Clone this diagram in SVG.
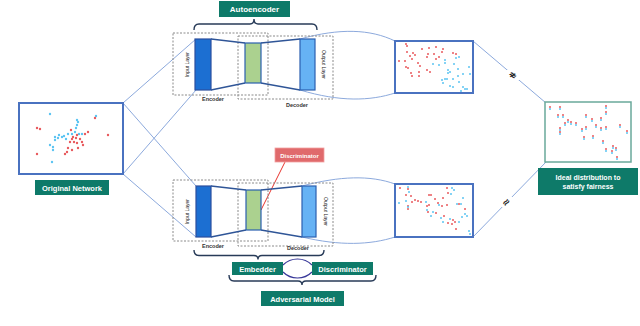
<svg xmlns="http://www.w3.org/2000/svg" width="640" height="326" viewBox="0 0 640 326">
<defs>
<style>
.lbl{fill:#0e7a69}
.lt{fill:#fff;font-family:"Liberation Sans",Arial,sans-serif;font-weight:bold;text-anchor:middle}
.dash{fill:none;stroke:#8a8a8a;stroke-width:1;stroke-dasharray:2,1.5}
.inl{fill:#1c6fd2;stroke:#2b4f9e;stroke-width:1.2}
.outl{fill:#66b2f4;stroke:#2b5fb0;stroke-width:1.2}
.bn{fill:#abd18f;stroke:#2b5fb0;stroke-width:1.2}
.trap{fill:none;stroke:#2f5597;stroke-width:1.3}
.sm{font-family:"Liberation Sans",Arial,sans-serif;font-size:5px;fill:#222;text-anchor:middle}
.enc{font-family:"Liberation Sans",Arial,sans-serif;font-size:5.5px;font-weight:bold;fill:#333;text-anchor:middle}
.brace{fill:none;stroke:#283b58;stroke-width:1.4}
.conn{fill:none;stroke:#7f9fd8;stroke-width:0.9}
.sbox{fill:#fff;stroke:#4a72c0;stroke-width:2}
.r{fill:#e85a5e}
.b{fill:#5cc4f2}
.sym{font-family:"DejaVu Sans",sans-serif;font-size:10px;font-weight:bold;fill:#222;text-anchor:middle}
</style>
</defs>
<rect width="640" height="326" fill="#fff"/>

<g id="connectors">
  <line class="conn" x1="123" y1="103" x2="196" y2="39"/>
  <line class="conn" x1="123" y1="174" x2="196" y2="90"/>
  <line class="conn" x1="123" y1="103" x2="196" y2="186"/>
  <line class="conn" x1="123" y1="174" x2="196" y2="237"/>
  <path class="conn" d="M300 39 C340 28 370 29 395 41"/>
  <path class="conn" d="M300 90 C340 102 370 101 395 93"/>
  <path class="conn" d="M302 186 C340 176 370 175 395 184"/>
  <path class="conn" d="M302 237 C340 246 370 245 395 237"/>
  <line class="conn" x1="473" y1="41" x2="546" y2="103"/>
  <line class="conn" x1="473" y1="237" x2="546" y2="162"/>
  <line x1="285" y1="162" x2="261" y2="210" stroke="#e8332e" stroke-width="1"/>
  <path d="M283 265 C291 257 304 257 312 265" fill="none" stroke="#3a3a9a" stroke-width="1.2"/>
  <path d="M283 272 C291 280 304 280 312 272" fill="none" stroke="#3a3a9a" stroke-width="1.2"/>
</g>

<g id="sym-top">
  <rect x="507" y="70" width="12" height="10" fill="#fff"/>
  <text class="sym" x="513" y="78.5" transform="rotate(40 513 75)">≉</text>
</g>
<g id="sym-bottom">
  <rect x="500" y="197" width="12" height="10" fill="#fff"/>
  <text class="sym" x="506" y="205.5" transform="rotate(-45 506 202)">≈</text>
</g>

<g id="autoencoder-label">
  <rect class="lbl" x="219" y="1" width="71" height="16"/>
  <text class="lt" x="254.5" y="12" font-size="8">Autoencoder</text>
  <path class="brace" d="M194 30 Q194 24 199 24 L250 24 Q254 24 254 19 Q254 24 258 24 L312 24 Q317 24 317 30"/>
</g>

<g id="top-autoencoder">
  <rect class="dash" x="173" y="33" width="95" height="62"/>
  <rect class="dash" x="238" y="36" width="95" height="63"/>
  <path class="trap" d="M211 39 L245 43 M211 90 L245 83 M261 43 L300 39 M261 83 L300 90"/>
  <rect class="inl" x="195" y="39" width="16" height="51"/>
  <rect class="bn" x="245" y="43" width="16" height="40"/>
  <rect class="outl" x="300" y="39" width="15" height="51"/>
  <text class="sm" x="187" y="66" transform="rotate(-90 187 64.5)">Input Layer</text>
  <text class="sm" x="323" y="66" transform="rotate(90 323 64.5)">Output Layer</text>
  <text class="enc" x="213" y="101">Encoder</text>
  <text class="enc" x="297" y="107">Decoder</text>
</g>

<g id="bottom-autoencoder">
  <rect class="dash" x="173" y="180" width="95" height="61"/>
  <rect class="dash" x="238" y="183" width="95" height="63"/>
  <path class="trap" d="M211 186 L246 190 M211 237 L246 230 M261 190 L302 186 M261 230 L302 237"/>
  <rect class="inl" x="196" y="186" width="15" height="51"/>
  <rect class="bn" x="246" y="190" width="15" height="40"/>
  <rect class="outl" x="302" y="186" width="14" height="51"/>
  <text class="sm" x="187" y="213" transform="rotate(-90 187 211.5)">Input Layer</text>
  <text class="sm" x="325" y="213" transform="rotate(90 325 211.5)">Output Layer</text>
  <text class="enc" x="213" y="248">Encoder</text>
  <text class="enc" x="298" y="249.5">Decoder</text>
  <path class="brace" d="M194 250 Q194 255.5 199 255.5 L254 255.5 Q258 255.5 258 259.5 Q258 255.5 262 255.5 L319 255.5 Q324 255.5 324 250"/>
</g>

<g id="discriminator-tag">
  <rect x="275" y="148" width="49" height="14" fill="#e06a6c" stroke="#f3a0a0" stroke-width="0.8"/>
  <text class="lt" x="299.5" y="157.5" font-size="6">Discriminator</text>
</g>

<g id="embedder">
  <rect class="lbl" x="232" y="262" width="51" height="13"/>
  <text class="lt" x="257.5" y="271.5" font-size="7.5">Embedder</text>
</g>
<g id="discriminator">
  <rect class="lbl" x="312" y="262" width="61" height="13"/>
  <text class="lt" x="342.5" y="271.5" font-size="7.5">Discriminator</text>
</g>
<g id="adversarial-model">
  <path class="brace" d="M229 275 Q229 281 234 281 L298 281 Q302 281 302 285 Q302 281 306 281 L371 281 Q376 281 376 275"/>
  <rect class="lbl" x="261" y="291" width="83" height="15"/>
  <text class="lt" x="302.5" y="301.5" font-size="7.5">Adversarial Model</text>
</g>

<g id="original-network">
  <rect class="sbox" x="19" y="103" width="104" height="71" stroke="#3556a6"/>
  <g class="b">
    <circle cx="50" cy="114" r="1.2"/><circle cx="96" cy="116" r="1.2"/><circle cx="77" cy="120" r="1.2"/><circle cx="78" cy="122" r="1.2"/><circle cx="77" cy="125" r="1.2"/><circle cx="76" cy="128" r="1.2"/><circle cx="75" cy="132" r="1.2"/><circle cx="55" cy="137" r="1.2"/><circle cx="58" cy="138" r="1.2"/><circle cx="62" cy="137" r="1.2"/><circle cx="64" cy="136" r="1.2"/><circle cx="68" cy="134" r="1.2"/><circle cx="72" cy="134" r="1.2"/><circle cx="55" cy="140" r="1.2"/><circle cx="50" cy="145" r="1.2"/><circle cx="53" cy="147" r="1.2"/><circle cx="53" cy="150" r="1.2"/><circle cx="79" cy="134" r="1.2"/><circle cx="82" cy="134" r="1.2"/><circle cx="52" cy="162" r="1.2"/><circle cx="59" cy="135" r="1.2"/><circle cx="66" cy="139" r="1.2"/>
  </g>
  <g class="r">
    <circle cx="95" cy="118" r="1.2"/><circle cx="37" cy="128" r="1.2"/><circle cx="40" cy="129" r="1.2"/><circle cx="71" cy="130" r="1.2"/><circle cx="88" cy="132" r="1.2"/><circle cx="85" cy="134" r="1.2"/><circle cx="73" cy="137" r="1.2"/><circle cx="76" cy="138" r="1.2"/><circle cx="80" cy="139" r="1.2"/><circle cx="74" cy="142" r="1.2"/><circle cx="77" cy="143" r="1.2"/><circle cx="70" cy="142" r="1.2"/><circle cx="83" cy="145" r="1.2"/><circle cx="108" cy="135" r="1.2"/><circle cx="68" cy="148" r="1.2"/><circle cx="78" cy="148" r="1.2"/><circle cx="72" cy="150" r="1.2"/><circle cx="67" cy="152" r="1.2"/><circle cx="65" cy="154" r="1.2"/><circle cx="37" cy="154" r="1.2"/><circle cx="82" cy="142" r="1.2"/><circle cx="77" cy="135" r="1.2"/><circle cx="72" cy="139" r="1.2"/>
  </g>
  <rect class="lbl" x="35" y="180" width="74" height="15"/>
  <text class="lt" x="72" y="190.5" font-size="7.5">Original Network</text>
</g>

<g id="top-embedding">
  <rect class="sbox" x="395" y="41" width="78" height="52"/>
  <g class="r">
    <circle cx="406" cy="44" r="1"/><circle cx="407" cy="46" r="1"/><circle cx="422" cy="49" r="1"/><circle cx="429" cy="48" r="1"/><circle cx="436" cy="47" r="1"/><circle cx="443" cy="49" r="1"/><circle cx="407" cy="52" r="1"/><circle cx="413" cy="53" r="1"/><circle cx="415" cy="55" r="1"/><circle cx="428" cy="54" r="1"/><circle cx="434" cy="54" r="1"/><circle cx="442" cy="52" r="1"/><circle cx="453" cy="53" r="1"/><circle cx="456" cy="54" r="1"/><circle cx="410" cy="56" r="1"/><circle cx="399" cy="61" r="1"/><circle cx="405" cy="61" r="1"/><circle cx="412" cy="59" r="1"/><circle cx="427" cy="57" r="1"/><circle cx="436" cy="59" r="1"/><circle cx="439" cy="57" r="1"/><circle cx="418" cy="63" r="1"/><circle cx="420" cy="66" r="1"/><circle cx="406" cy="67" r="1"/><circle cx="408" cy="68" r="1"/><circle cx="427" cy="70" r="1"/><circle cx="430" cy="72" r="1"/><circle cx="419" cy="72" r="1"/><circle cx="411" cy="73" r="1"/><circle cx="412" cy="76" r="1"/><circle cx="419" cy="76" r="1"/>
  </g>
  <g class="b">
    <circle cx="459" cy="57" r="1"/><circle cx="456" cy="58" r="1"/><circle cx="445" cy="60" r="1"/><circle cx="433" cy="64" r="1"/><circle cx="439" cy="65" r="1"/><circle cx="445" cy="63" r="1"/><circle cx="454" cy="64" r="1"/><circle cx="469" cy="67" r="1"/><circle cx="458" cy="69" r="1"/><circle cx="448" cy="70" r="1"/><circle cx="450" cy="72" r="1"/><circle cx="448" cy="73" r="1"/><circle cx="470" cy="74" r="1"/><circle cx="463" cy="74" r="1"/><circle cx="458" cy="76" r="1"/><circle cx="442" cy="80" r="1"/><circle cx="445" cy="79" r="1"/><circle cx="447" cy="79" r="1"/><circle cx="453" cy="79" r="1"/><circle cx="459" cy="82" r="1"/><circle cx="443" cy="83" r="1"/><circle cx="450" cy="86" r="1"/><circle cx="453" cy="87" r="1"/><circle cx="463" cy="87" r="1"/><circle cx="465" cy="89" r="1"/><circle cx="461" cy="91" r="1"/><circle cx="467" cy="89" r="1"/>
  </g>
</g>

<g id="bottom-embedding">
  <rect class="sbox" x="395" y="184" width="78" height="53"/>
  <g class="r">
    <circle cx="400" cy="188" r="1"/><circle cx="408" cy="189" r="1"/><circle cx="447" cy="188" r="1"/><circle cx="448" cy="193" r="1"/><circle cx="406" cy="195" r="1"/><circle cx="411" cy="196" r="1"/><circle cx="429" cy="195" r="1"/><circle cx="431" cy="195" r="1"/><circle cx="415" cy="200" r="1"/><circle cx="418" cy="201" r="1"/><circle cx="421" cy="202" r="1"/><circle cx="412" cy="202" r="1"/><circle cx="435" cy="199" r="1"/><circle cx="443" cy="198" r="1"/><circle cx="438" cy="203" r="1"/><circle cx="429" cy="205" r="1"/><circle cx="427" cy="206" r="1"/><circle cx="442" cy="206" r="1"/><circle cx="447" cy="205" r="1"/><circle cx="459" cy="204" r="1"/><circle cx="408" cy="206" r="1"/><circle cx="408" cy="209" r="1"/><circle cx="465" cy="209" r="1"/><circle cx="428" cy="212" r="1"/><circle cx="436" cy="213" r="1"/><circle cx="444" cy="216" r="1"/><circle cx="453" cy="220" r="1"/><circle cx="448" cy="223" r="1"/><circle cx="452" cy="224" r="1"/><circle cx="455" cy="222" r="1"/><circle cx="456" cy="229" r="1"/>
  </g>
  <g class="b">
    <circle cx="408" cy="187" r="1"/><circle cx="452" cy="188" r="1"/><circle cx="454" cy="190" r="1"/><circle cx="409" cy="192" r="1"/><circle cx="451" cy="194" r="1"/><circle cx="463" cy="198" r="1"/><circle cx="406" cy="201" r="1"/><circle cx="399" cy="203" r="1"/><circle cx="426" cy="202" r="1"/><circle cx="439" cy="205" r="1"/><circle cx="457" cy="204" r="1"/><circle cx="461" cy="204" r="1"/><circle cx="408" cy="207" r="1"/><circle cx="427" cy="210" r="1"/><circle cx="433" cy="212" r="1"/><circle cx="431" cy="216" r="1"/><circle cx="465" cy="214" r="1"/><circle cx="467" cy="216" r="1"/><circle cx="462" cy="217" r="1"/><circle cx="441" cy="218" r="1"/><circle cx="450" cy="219" r="1"/><circle cx="443" cy="222" r="1"/><circle cx="459" cy="222" r="1"/><circle cx="469" cy="231" r="1"/><circle cx="470" cy="234" r="1"/>
  </g>
</g>

<g id="ideal-distribution">
  <rect x="545" y="102" width="86" height="60" fill="#fff" stroke="#6aa99b" stroke-width="1.5"/>
  <g class="r">
    <circle cx="550" cy="107" r="1"/><circle cx="560" cy="107" r="1"/><circle cx="606" cy="106" r="1"/><circle cx="558" cy="115" r="1"/><circle cx="563" cy="115" r="1"/><circle cx="586" cy="115" r="1"/><circle cx="606" cy="112" r="1"/><circle cx="592" cy="119" r="1"/><circle cx="601" cy="118" r="1"/><circle cx="568" cy="120" r="1"/><circle cx="571" cy="122" r="1"/><circle cx="565" cy="123" r="1"/><circle cx="576" cy="123" r="1"/><circle cx="596" cy="125" r="1"/><circle cx="606" cy="127" r="1"/><circle cx="620" cy="125" r="1"/><circle cx="586" cy="127" r="1"/><circle cx="582" cy="129" r="1"/><circle cx="601" cy="128" r="1"/><circle cx="560" cy="128" r="1"/><circle cx="560" cy="132" r="1"/><circle cx="627" cy="131" r="1"/><circle cx="584" cy="137" r="1"/><circle cx="593" cy="136" r="1"/><circle cx="603" cy="141" r="1"/><circle cx="613" cy="146" r="1"/><circle cx="616" cy="148" r="1"/><circle cx="606" cy="149" r="1"/><circle cx="612" cy="151" r="1"/><circle cx="617" cy="157" r="1"/>
  </g>
  <g class="b">
    <circle cx="550" cy="109" r="1"/><circle cx="560" cy="109" r="1"/><circle cx="606" cy="108" r="1"/><circle cx="558" cy="117" r="1"/><circle cx="563" cy="117" r="1"/><circle cx="586" cy="117" r="1"/><circle cx="606" cy="114" r="1"/><circle cx="592" cy="121" r="1"/><circle cx="601" cy="120" r="1"/><circle cx="568" cy="122" r="1"/><circle cx="571" cy="124" r="1"/><circle cx="565" cy="125" r="1"/><circle cx="576" cy="125" r="1"/><circle cx="596" cy="127" r="1"/><circle cx="606" cy="129" r="1"/><circle cx="620" cy="127" r="1"/><circle cx="586" cy="129" r="1"/><circle cx="582" cy="131" r="1"/><circle cx="601" cy="130" r="1"/><circle cx="560" cy="130" r="1"/><circle cx="560" cy="134" r="1"/><circle cx="627" cy="133" r="1"/><circle cx="584" cy="139" r="1"/><circle cx="593" cy="138" r="1"/><circle cx="603" cy="143" r="1"/><circle cx="613" cy="148" r="1"/><circle cx="616" cy="150" r="1"/><circle cx="606" cy="151" r="1"/><circle cx="612" cy="153" r="1"/><circle cx="617" cy="159" r="1"/>
  </g>
  <rect class="lbl" x="538" y="168" width="100" height="27"/>
  <text class="lt" x="588" y="179.5" font-size="7">Ideal distribution to</text>
  <text class="lt" x="588" y="188.5" font-size="7">satisfy fairness</text>
</g>
</svg>
